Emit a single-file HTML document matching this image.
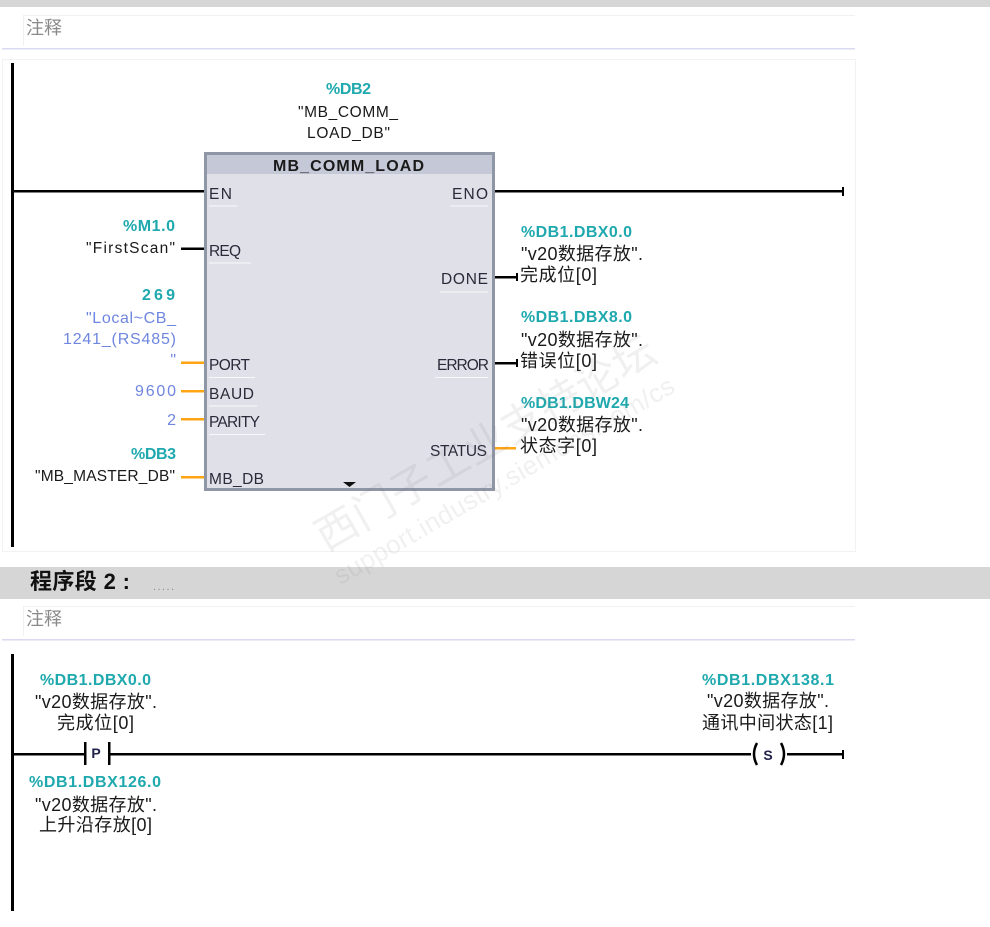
<!DOCTYPE html>
<html><head><meta charset="utf-8"><style>
html,body{margin:0;padding:0;background:#fff;width:990px;height:927px;overflow:hidden}
svg{display:block;position:absolute;left:0;top:0;filter:blur(.35px)}
text{font-family:"Liberation Sans","Noto Sans CJK SC",sans-serif;font-size:15.5px;fill:#1a1a1a}
.t{fill:#1fa9ae;font-weight:bold;font-size:16px}
.b{fill:#6f86e0;font-size:16px}
.c{font-size:18px}
.e{text-anchor:end}
.m{text-anchor:middle}
.p{font-size:15.5px;fill:#2a2a3a}
</style></head><body>
<svg width="990" height="927" viewBox="0 0 990 927">
<!-- network 1 header -->
<rect x="0" y="0" width="990" height="7" fill="#d6d6d6"/>
<path d="M23.5 46V15.5H855" fill="none" stroke="#f1f1f1"/>
<text x="26" y="34" style="font-size:18px;fill:#8a8a8a">注释</text>
<rect x="2" y="48" width="853" height="1.5" fill="#d9d9ef"/>
<rect x="2.5" y="59.5" width="853" height="492" fill="#fff" stroke="#f2f2f2"/>
<rect x="11" y="63" width="3" height="484" fill="#000"/>

<!-- block -->
<rect x="205.500" y="153.500" width="288" height="336" fill="#dfe0e8" stroke="#8f96a6" stroke-width="3"/>
<rect x="207" y="155" width="285" height="19" fill="#c5c8d6"/>
<text x="348.500" y="171" class="m" textLength="151" style="font-weight:bold;font-size:16px">MB_COMM_LOAD</text>

<!-- wires -->
<g fill="#000">
<rect x="14" y="190" width="190" height="2.500"/>
<rect x="495" y="190" width="347" height="2.500"/>
<rect x="842" y="187" width="2" height="9"/>
<rect x="181" y="247.500" width="23" height="2.500"/>
<rect x="495" y="276" width="21" height="2.500"/>
<rect x="516" y="273" width="2" height="8"/>
<rect x="495" y="362" width="21" height="2.500"/>
<rect x="516" y="359" width="2" height="8"/>
</g>
<g fill="#ffa514">
<rect x="181" y="361.500" width="23" height="2.500"/>
<rect x="181" y="390" width="23" height="2.500"/>
<rect x="181" y="418" width="23" height="2.500"/>
<rect x="181" y="476" width="23" height="2.500"/>
<rect x="495" y="447" width="21" height="2.500"/>
</g>

<!-- pin labels -->
<text x="209" y="199" class="p" textLength="23">EN</text>
<text x="209" y="256" class="p" textLength="32">REQ</text>
<text x="209" y="370" class="p" textLength="41">PORT</text>
<text x="209" y="399" class="p" textLength="45">BAUD</text>
<text x="209" y="427" class="p" textLength="51">PARITY</text>
<text x="209" y="484" class="p" textLength="55">MB_DB</text>
<text x="488" y="199" class="p e" textLength="36">ENO</text>
<text x="488" y="284" class="p e" textLength="47">DONE</text>
<text x="489" y="370" class="p e" textLength="52">ERROR</text>
<text x="487" y="456" class="p e" textLength="57">STATUS</text>
<g fill="#fff" opacity=".8">
<rect x="209" y="205.500" width="28" height="1"/><rect x="450" y="205.500" width="38" height="1"/>
<rect x="209" y="262.500" width="42" height="1"/><rect x="440" y="291.500" width="48" height="1"/>
<rect x="209" y="377" width="46" height="1"/><rect x="435" y="377" width="53" height="1"/>
<rect x="209" y="405.500" width="48" height="1"/><rect x="209" y="434" width="56" height="1"/>
</g>
<path d="M343 482h13l-6.500 5z" fill="#111"/>

<!-- top labels -->
<text x="348.500" y="94" class="t m" textLength="45">%DB2</text>
<text x="348" y="117" class="m" textLength="100">"MB_COMM_</text>
<text x="348.500" y="138" class="m" textLength="83">LOAD_DB"</text>

<!-- left labels -->
<text x="175" y="231" class="t e" textLength="52">%M1.0</text>
<text x="175" y="253" class="e" textLength="89">"FirstScan"</text>
<text x="175" y="300" class="t e" textLength="33">269</text>
<text x="176" y="323" class="b e" textLength="90">"Local~CB_</text>
<text x="176" y="344" class="b e" textLength="113">1241_(RS485)</text>
<text x="176" y="365" class="b e">"</text>
<text x="176" y="396" class="b e" textLength="41">9600</text>
<text x="176" y="425" class="b e">2</text>
<text x="176" y="459" class="t e" textLength="45">%DB3</text>
<text x="175" y="481" class="e" textLength="140">"MB_MASTER_DB"</text>

<!-- right labels -->
<text x="521" y="237" class="t" textLength="111">%DB1.DBX0.0</text>
<text x="521" y="260" class="c" textLength="122">"v20数据存放".</text>
<text x="520" y="281" class="c" textLength="77">完成位[0]</text>
<text x="521" y="322" class="t" textLength="111">%DB1.DBX8.0</text>
<text x="521" y="346" class="c" textLength="122">"v20数据存放".</text>
<text x="520" y="367" class="c" textLength="77">错误位[0]</text>
<text x="521" y="408" class="t" textLength="108">%DB1.DBW24</text>
<text x="521" y="431" class="c" textLength="122">"v20数据存放".</text>
<text x="520" y="452" class="c" textLength="77">状态字[0]</text>

<!-- network 2 -->
<rect x="0" y="567" width="990" height="32" fill="#d6d6d6"/>
<text x="30" y="589" textLength="100" style="font-weight:bold;font-size:22px;fill:#111">程序段 2 :</text>
<text x="153" y="590" textLength="21" style="font-size:11px;fill:#888">.....</text>
<path d="M23.5 636V606.500H855" fill="none" stroke="#f1f1f1"/>
<text x="26" y="625" style="font-size:18px;fill:#8a8a8a">注释</text>
<rect x="2" y="639" width="853" height="1.500" fill="#d9d9ef"/>
<rect x="11" y="654" width="3" height="257" fill="#000"/>

<g fill="#000">
<rect x="14" y="753" width="70" height="2.500"/>
<rect x="84" y="742" width="2.500" height="23"/>
<rect x="108" y="742" width="2.500" height="23"/>
<rect x="110" y="753" width="641" height="2.500"/>
<rect x="787" y="753" width="55" height="2.500"/>
<rect x="842" y="750" width="2" height="9"/>
</g>
<text x="96" y="758" class="m" style="font-weight:bold;font-size:14px;fill:#23234a">P</text>
<text x="768" y="760" class="m" style="font-weight:bold;font-size:14px;fill:#23234a">S</text>
<path d="M757 743Q751 754 757 765M781 743Q787 754 781 765" fill="none" stroke="#000" stroke-width="2.500"/>

<text x="95.500" y="685" class="t m" textLength="111">%DB1.DBX0.0</text>
<text x="96" y="708" class="c m" textLength="122">"v20数据存放".</text>
<text x="95.500" y="729" class="c m" textLength="77">完成位[0]</text>
<text x="95" y="787" class="t m" textLength="132">%DB1.DBX126.0</text>
<text x="96" y="811" class="c m" textLength="122">"v20数据存放".</text>
<text x="95.500" y="831" class="c m" textLength="113">上升沿存放[0]</text>
<text x="768" y="685" class="t m" textLength="132">%DB1.DBX138.1</text>
<text x="768" y="707" class="c m" textLength="122">"v20数据存放".</text>
<text x="767.500" y="729" class="c m" textLength="131">通讯中间状态[1]</text>

<!-- watermark -->
<g transform="translate(326 552) rotate(-30)" opacity="0.1">
<text x="0" y="0" textLength="385" style="font-size:42px;fill:#777">西门子工业支持论坛</text>
<text x="-4" y="36" textLength="388" style="font-size:26px;fill:#777">support.industry.siemens.com/cs</text>
</g>
</svg>
</body></html>
